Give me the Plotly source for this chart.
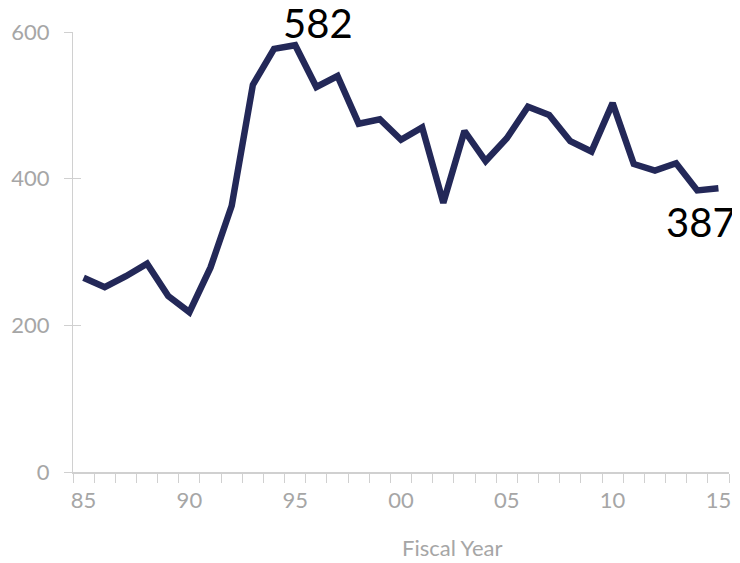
import plotly.graph_objects as go

years = list(range(1985, 2016))
values = [265, 252, 267, 284, 240, 218, 279, 363, 528, 577, 582, 525, 540, 475,
          481, 453, 470, 367, 465, 424, 455, 498, 487, 451, 437, 503, 420, 411,
          421, 384, 387]
xtick_years = [1985, 1990, 1995, 2000, 2005, 2010, 2015]
xtick_labels = ["85", "90", "95", "00", "05", "10", "15"]
ytick_vals = [0, 200, 400, 600]
x_title = "Fiscal Year"

LINE = "#232858"
GRAY = "#a6a6a6"
AXIS = "#d0d0d0"
FONT = "Lato, Open Sans, sans-serif"

fig = go.Figure()
fig.add_trace(go.Scatter(x=years, y=values, mode="lines",
                         line=dict(color=LINE, width=6.5, shape="linear"),
                         cliponaxis=False, hoverinfo="skip"))
# invisible trace for the overlay axis (inward half of the crossing y ticks)
fig.add_trace(go.Scatter(x=[years[0]], y=[values[0]], yaxis="y2", mode="markers",
                         marker=dict(opacity=0), hoverinfo="skip", showlegend=False))

i_max = values.index(max(values))
fig.add_annotation(x=years[i_max], y=values[i_max], text=str(values[i_max]),
                   showarrow=False, xanchor="center", yanchor="middle",
                   xshift=23, yshift=22, font=dict(family=FONT, size=40, color="#000000"))
fig.add_annotation(x=years[-1], y=values[-1], text=str(values[-1]),
                   showarrow=False, xanchor="center", yanchor="middle",
                   xshift=-17, yshift=-34, font=dict(family=FONT, size=40, color="#000000"))
fig.add_annotation(xref="paper", yref="paper", x=0.578, y=-0.1705,
                   text=x_title, showarrow=False, xanchor="center", yanchor="middle",
                   font=dict(family=FONT, size=22, color=GRAY))

fig.update_layout(
    width=740, height=563,
    margin=dict(l=65, r=19, t=24, b=99, autoexpand=False),
    paper_bgcolor="white", plot_bgcolor="white",
    showlegend=False,
    xaxis=dict(range=[1984.5, 2015.5], tickmode="array", tickvals=xtick_years,
               ticktext=xtick_labels, ticks="", showgrid=False, zeroline=False,
               showline=True, linecolor=AXIS, linewidth=1.5,
               tickfont=dict(family=FONT, size=22, color=GRAY),
               ticklabelstandoff=8, automargin=False,
               minor=dict(ticks="outside", tick0=1984.5, dtick=1, ticklen=9,
                          tickcolor=AXIS, tickwidth=1, showgrid=False)),
    yaxis=dict(range=[0, 600], tickmode="array", tickvals=ytick_vals,
               ticks="outside", ticklen=8, tickcolor=AXIS, tickwidth=1,
               showgrid=False, zeroline=False, showline=True, linecolor=AXIS,
               linewidth=1, tickfont=dict(family=FONT, size=22, color=GRAY),
               ticklabelstandoff=10, automargin=False),
    yaxis2=dict(range=[0, 600], overlaying="y", side="left", tickmode="array",
                tickvals=ytick_vals, ticks="inside", ticklen=8, tickcolor=AXIS,
                showticklabels=False, showgrid=False, zeroline=False, showline=False),
)

fig.write_html("out.html")
